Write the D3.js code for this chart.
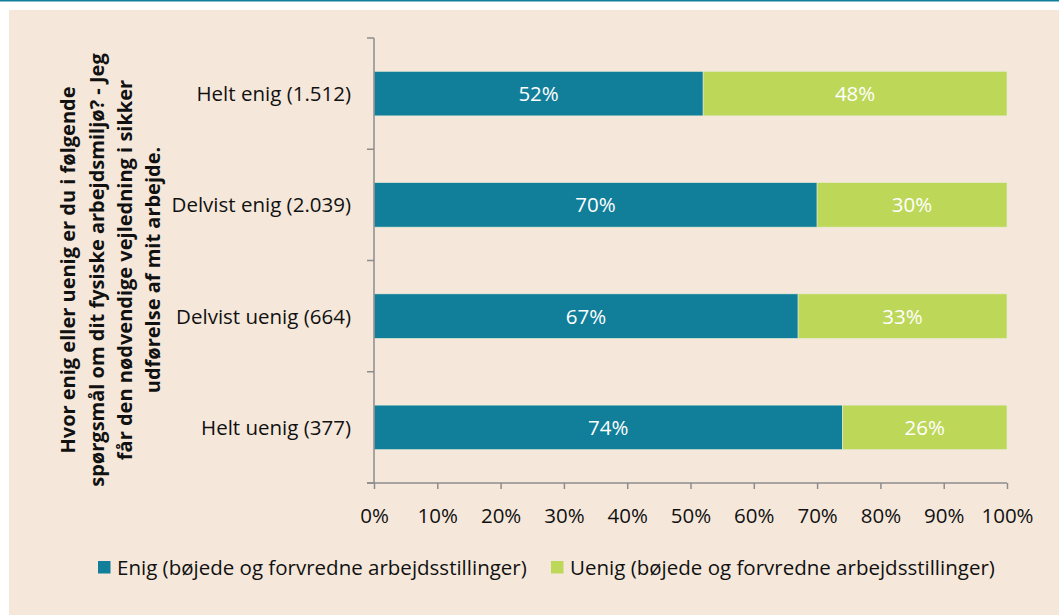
<!DOCTYPE html>
<html><head><meta charset="utf-8">
<script src="https://cdn.jsdelivr.net/npm/d3@7"></script>
<style>
html,body{margin:0;padding:0;background:#fff;}
svg{display:block;font-family:"Open Sans","Noto Sans",sans-serif;}
</style></head>
<body>
<svg id="chart" width="1059" height="615"></svg>
<script>
const categories = ["Helt enig (1.512)", "Delvist enig (2.039)", "Delvist uenig (664)", "Helt uenig (377)"];
const enigValues = [52, 70, 67, 74];
const uenigValues = [48, 30, 33, 26];
const seriesNames = ["Enig (bøjede og forvredne arbejdsstillinger)", "Uenig (bøjede og forvredne arbejdsstillinger)"];
const xTicks = [0,10,20,30,40,50,60,70,80,90,100];
const titleLines = ["Hvor enig eller uenig er du i følgende", "spørgsmål om dit fysiske arbejdsmiljø? - Jeg", "får den nødvendige vejledning i sikker", "udførelse af mit arbejde."];

const colors = ["#117E9A", "#BDD759"];
const FS = 20.5;
const svg = d3.select("#chart");
svg.append("rect").attr("x",0).attr("y",0).attr("width",1059).attr("height",1.5).attr("fill","#117E9A");
svg.append("rect").attr("x",9).attr("y",10).attr("width",1050).attr("height",605).attr("fill","#F5E8DB");

const x = d3.scaleLinear().domain([0,100]).range([374,1007]);
const y = d3.scaleBand().domain(categories).range([38,483]).padding(0);
const barH = y.bandwidth()*0.4;

const data = categories.map((c,i)=>({cat:c, parts:[{s:0,v:enigValues[i],x0:0},{s:1,v:uenigValues[i],x0:enigValues[i]}]}));

const g = svg.append("g");
data.forEach(d=>{
  const yc = y(d.cat)+y.bandwidth()/2;
  d.parts.forEach(p=>{
    g.append("rect").attr("x",x(p.x0)).attr("y",yc-barH/2)
      .attr("width",x(p.x0+p.v)-x(p.x0)).attr("height",barH)
      .attr("fill",colors[p.s]).attr("stroke","#E6EBD8").attr("stroke-width",0.6);
    g.append("text").attr("x",(x(p.x0)+x(p.x0+p.v))/2).attr("y",yc)
      .attr("dy","0.36em").attr("text-anchor","middle").attr("fill","#fff")
      .attr("font-size",FS).text(p.v+"%");
  });
});

// y axis
const yAxisG = svg.append("g");
yAxisG.append("line").attr("x1",374).attr("x2",374).attr("y1",38).attr("y2",483).attr("stroke","#8C8C8C").attr("stroke-width",1.5);
const bounds = categories.map(c=>y(c)).concat([483]);
bounds.forEach(b=>{
  yAxisG.append("line").attr("x1",367).attr("x2",374).attr("y1",b).attr("y2",b).attr("stroke","#8C8C8C").attr("stroke-width",1.5);
});
categories.forEach(c=>{
  yAxisG.append("text").attr("x",351).attr("y",y(c)+y.bandwidth()/2).attr("dy","0.36em")
    .attr("text-anchor","end").attr("font-size",FS).attr("fill","#111").text(c);
});

// x axis
const xAxis = d3.axisBottom(x).tickValues(xTicks).tickFormat(d=>d+"%").tickSize(6).tickSizeOuter(0);
const xg = svg.append("g").attr("transform","translate(0,483)").call(xAxis);
xg.select(".domain").attr("stroke","#8C8C8C").attr("stroke-width",1.5).attr("d","M367,0H1007");
xg.selectAll(".tick line").attr("stroke","#8C8C8C").attr("stroke-width",1.5);
xg.selectAll(".tick text").attr("font-size",FS).attr("fill","#111").attr("font-family","Open Sans, Noto Sans, sans-serif").attr("y",33).attr("dy","0.36em");

// y title
const tg = svg.append("text").attr("transform","translate(68,270) rotate(-90)")
  .attr("text-anchor","middle").attr("font-weight","bold").attr("font-size",20).attr("fill","#111");
titleLines.forEach((l,i)=>{
  tg.append("tspan").attr("x",0).attr("y",i*28.3).attr("dy","0.36em").text(l);
});

// legend
const legX = [98, 551];
seriesNames.forEach((n,i)=>{
  svg.append("rect").attr("x",legX[i]).attr("y",561).attr("width",12.5).attr("height",12.5).attr("fill",colors[i]);
  svg.append("text").attr("x",legX[i]+19).attr("y",567.5).attr("dy","0.36em").attr("font-size",FS).attr("fill","#111").text(n);
});
</script>
</body></html>
